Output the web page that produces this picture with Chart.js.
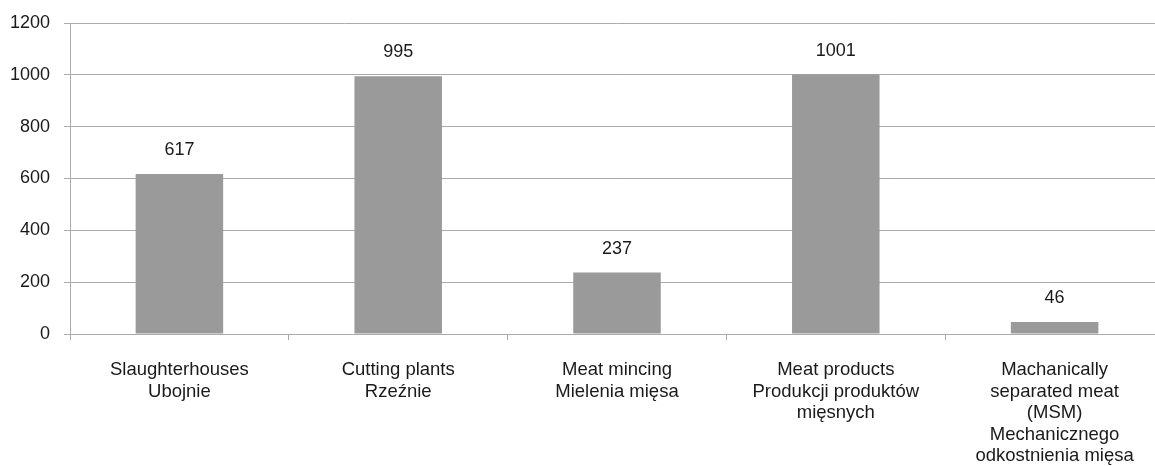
<!DOCTYPE html>
<html>
<head>
<meta charset="utf-8">
<script src="https://cdn.jsdelivr.net/npm/chart.js@4/dist/chart.umd.min.js"></script>
<style>
  html, body { margin: 0; padding: 0; background: #fff; overflow: hidden; }
  #wrap { width: 1165px; height: 466px; }
</style>
</head>
<body>
<div id="wrap"><canvas id="c" width="1165" height="466"></canvas></div>
<script>
// Establishment counts per activity type
const categories = [
  ['Slaughterhouses', 'Ubojnie'],
  ['Cutting plants', 'Rzeźnie'],
  ['Meat mincing', 'Mielenia mięsa'],
  ['Meat products', 'Produkcji produktów', 'mięsnych'],
  ['Machanically', 'separated meat', '(MSM)', 'Mechanicznego', 'odkostnienia mięsa']
];
const values = [617, 995, 237, 1001, 46];
const yTicks = [0, 200, 400, 600, 800, 1000, 1200];

const FONT = 'Liberation Sans, Arial, sans-serif';
const LINE = '#ababab';

// Writes each bar's value above it
const valueLabels = {
  id: 'valueLabels',
  afterDatasetsDraw(chart) {
    const ctx = chart.ctx;
    const meta = chart.getDatasetMeta(0);
    ctx.save();
    ctx.font = '18px ' + FONT;
    ctx.fillStyle = '#1a1a1a';
    ctx.textAlign = 'center';
    ctx.textBaseline = 'middle';
    meta.data.forEach((bar, i) => {
      ctx.fillText(String(values[i]), bar.x, bar.y - 24);
    });
    ctx.restore();
  }
};

new Chart(document.getElementById('c'), {
  type: 'bar',
  data: {
    labels: categories,
    datasets: [{
      data: values,
      backgroundColor: '#9a9a9a',
      borderWidth: 0,
      barPercentage: 0.4,
      categoryPercentage: 1.0
    }]
  },
  options: {
    responsive: false,
    animation: false,
    devicePixelRatio: 1,
    layout: { padding: { top: 23, right: 1, left: 0, bottom: 0 } },
    plugins: { legend: { display: false }, tooltip: { enabled: false } },
    scales: {
      x: {
        offset: true,
        grid: {
          offset: true,
          drawOnChartArea: false,
          drawTicks: true,
          tickLength: 6,
          color: LINE,
          lineWidth: 1
        },
        border: { display: true, color: LINE, width: 1 },
        ticks: {
          autoSkip: false,
          maxRotation: 0,
          minRotation: 0,
          padding: 19,
          color: '#1a1a1a',
          font: { family: FONT, size: 18.5, lineHeight: 1.17 }
        },
        afterFit(scale) {
          scale.height = 132;
          scale.paddingLeft = 0;
          scale.paddingRight = 0;
        }
      },
      y: {
        min: 0,
        max: 1200,
        afterBuildTicks(scale) {
          scale.ticks = yTicks.map(v => ({ value: v }));
        },
        grid: {
          color: LINE,
          lineWidth: 1,
          drawTicks: true,
          tickLength: 6
        },
        border: { display: true, color: LINE, width: 1 },
        ticks: {
          padding: 14,
          color: '#1a1a1a',
          font: { family: FONT, size: 18 },
          callback: (v) => String(v)
        },
        afterFit(scale) {
          scale.width = 70;
          scale.paddingTop = 0;
          scale.paddingBottom = 0;
        }
      }
    }
  },
  plugins: [valueLabels]
});
</script>
</body>
</html>
